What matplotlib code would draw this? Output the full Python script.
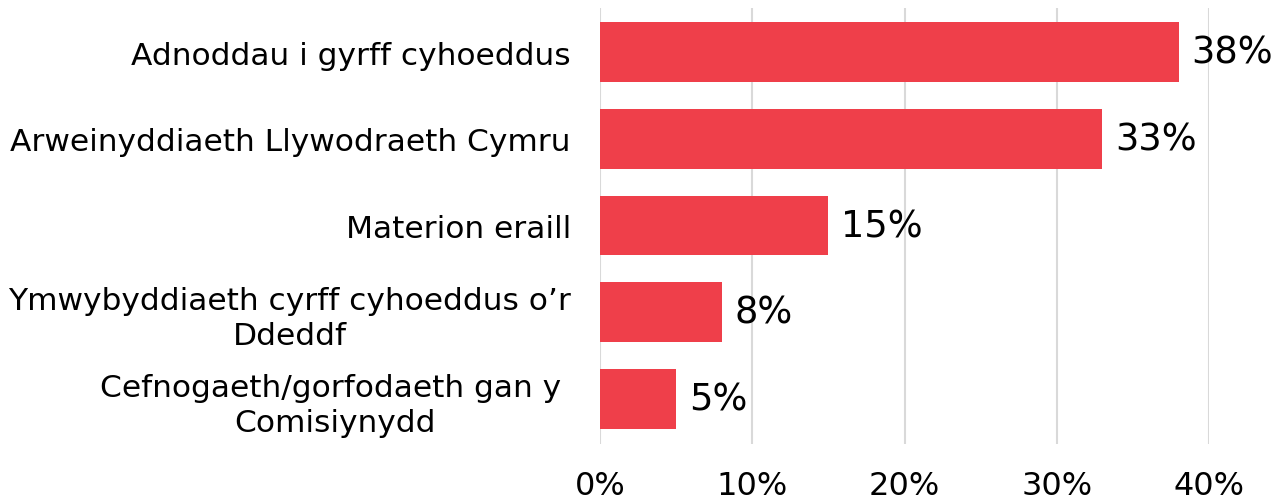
import matplotlib
matplotlib.use('Agg')
from matplotlib import pyplot as plt

# Dados
categorias = ['Adnoddau i gyrff cyhoeddus',
              'Arweinyddiaeth Llywodraeth Cymru',
              'Materion eraill',
              'Ymwybyddiaeth cyrff cyhoeddus o’r\nDdeddf',
              'Cefnogaeth/gorfodaeth gan y \nComisiynydd']
valores = [0.38, 0.33, 0.15, 0.08, 0.05]
rotulos = ['38%', '33%', '15%', '8%', '5%']
ticks = [0, 0.1, 0.2, 0.3, 0.4]
ticks_txt = ['0%', '10%', '20%', '30%', '40%']

W, H = 1279, 502
fig = plt.figure(figsize=(W / 100, H / 100), dpi=100)
ax = fig.add_axes([600 / W, 1 - 445 / H, 609 / W, 436 / H])

y = range(len(categorias))
ax.barh(y, valores, height=0.69, color='#ef3f4a', zorder=3)

for yi, v, r in zip(y, valores, rotulos):
    ax.annotate(r, (v, yi), xytext=(9, 0), textcoords='offset points',
                ha='left', va='center', fontsize=26.5, color='black')

ax.set_xlim(0, 0.4)
ax.set_ylim(4.52, -0.51)
ax.set_xticks(ticks)
ax.set_xticklabels(ticks_txt, fontsize=23)
ax.set_yticks(list(y))
ax.set_yticklabels(categorias, fontsize=22.5, multialignment='center',
                   linespacing=1.25)
ax.tick_params(axis='both', length=0)
ax.tick_params(axis='x', pad=19)
ax.tick_params(axis='y', pad=21)

ax.grid(axis='x', color='#d9d9d9', linewidth=1.5, zorder=0)
for s in ax.spines.values():
    s.set_visible(False)

fig.savefig('out.png', dpi=100)
